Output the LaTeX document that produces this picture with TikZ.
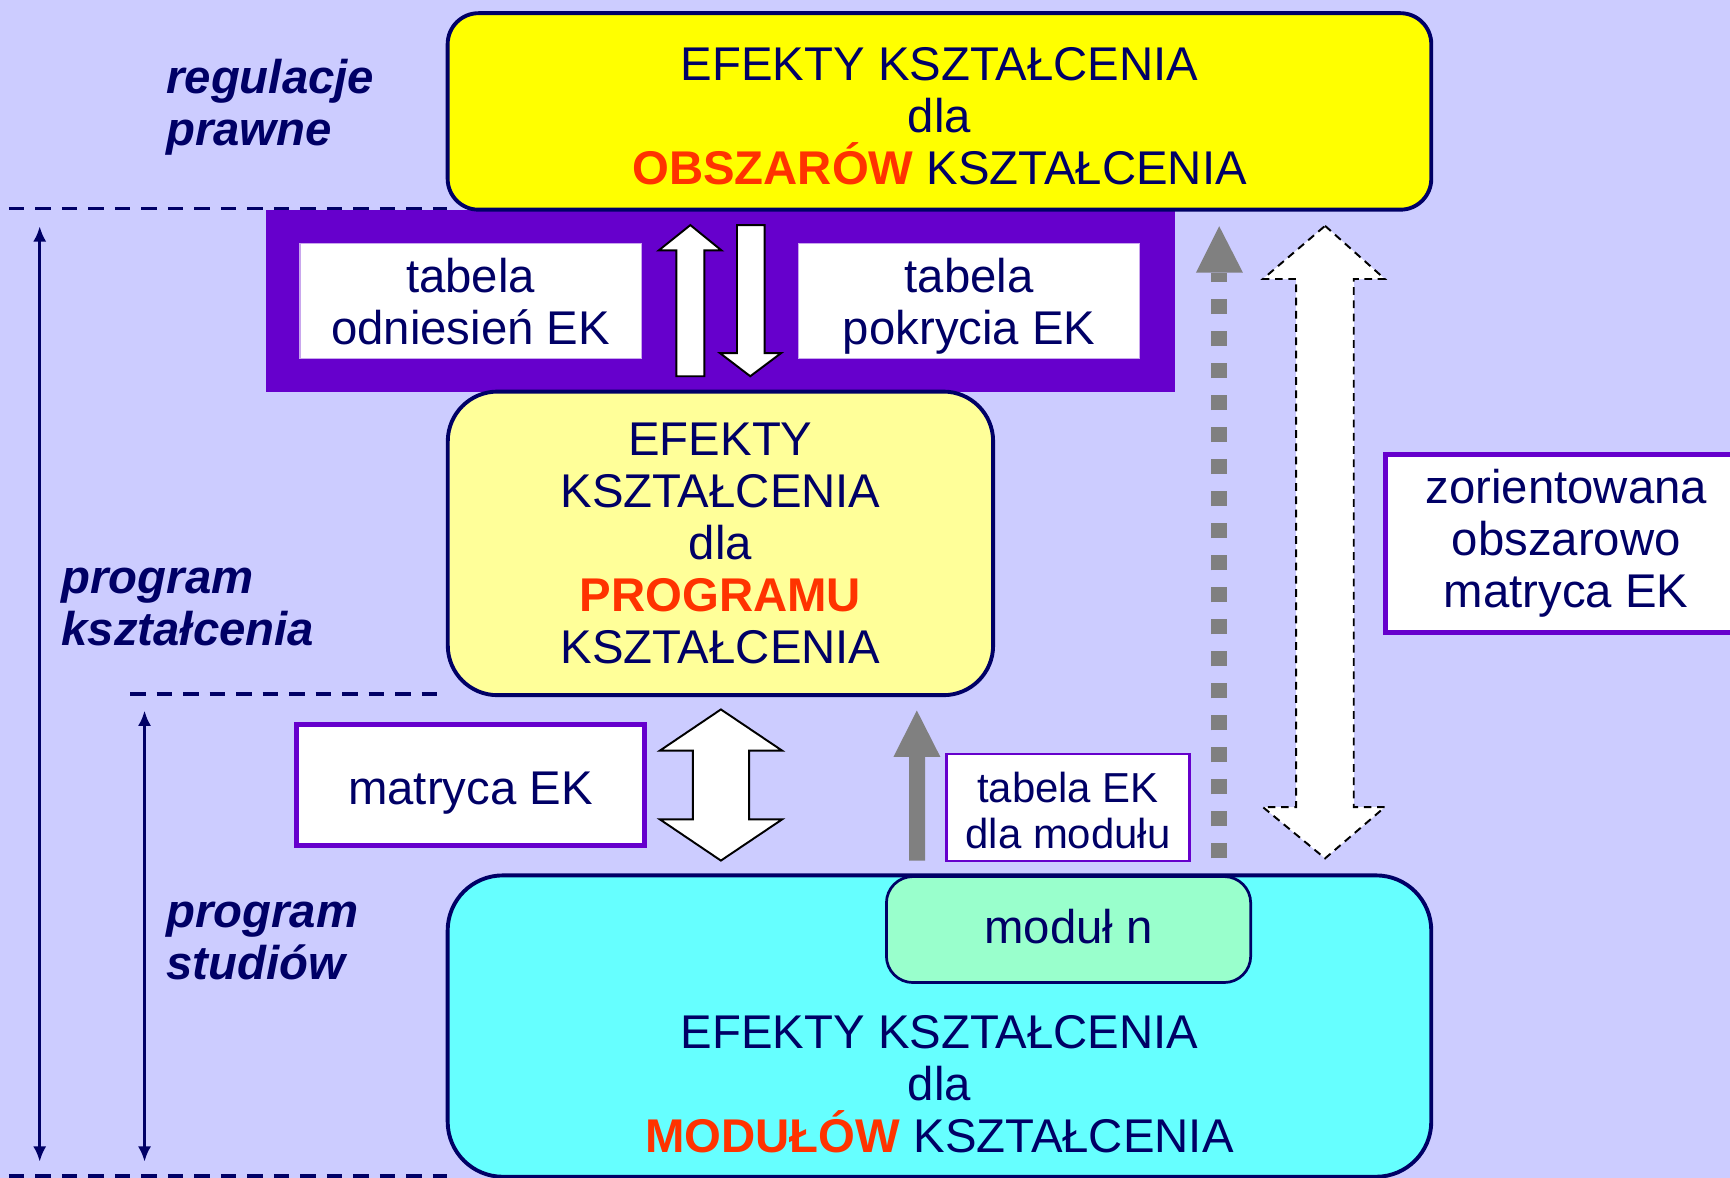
\documentclass[tikz,border=0pt]{standalone}
\usepackage{fontspec}
\setmainfont{Liberation Sans}
\usetikzlibrary{arrows.meta}
\definecolor{bg}{HTML}{CCCCFF}
\definecolor{navy}{HTML}{000066}
\definecolor{rd}{HTML}{FF3300}
\definecolor{purp}{HTML}{6600CC}
\definecolor{yel}{HTML}{FFFF00}
\definecolor{lyel}{HTML}{FFFF99}
\definecolor{cyn}{HTML}{66FFFF}
\definecolor{grn}{HTML}{99FFCC}
\begin{document}
\begin{tikzpicture}[x=0.01cm,y=-0.01cm,
txt/.style={text=navy,align=center,inner sep=0pt,font=\fontsize{12.2}{13.4}\selectfont},
lbl/.style={text=navy,align=left,anchor=west,inner sep=0pt,font=\fontsize{12.2}{13.4}\selectfont\bfseries\itshape},
ekbox/.style={txt,draw=navy,line width=1pt,rounded corners=#1},
wbox/.style={txt,fill=white,draw=purp,line width=1.3pt},
sep/.style={navy,line width=1pt,dash pattern=on 0.14cm off 0.1cm},
span/.style={navy,line width=0.8pt,{Latex[length=1.4mm,width=1.2mm]}-{Latex[length=1.4mm,width=1.2mm]}},
blk/.style={fill=white,draw=black,line width=0.5pt,line join=miter}]
\useasboundingbox[fill=bg](0,0)rectangle(1568,1067.7);
\clip(0,0)rectangle(1568,1067.7);
\fill[purp](241,190)rectangle(1065,355);
\node[ekbox=0.28cm,fill=yel,minimum width=8.91cm,minimum height=1.78cm](obszar)at(851.5,101){\rule{0pt}{11pt}EFEKTY KSZTAŁCENIA\\dla\\\textcolor{rd}{\bfseries OBSZARÓW} KSZTAŁCENIA};
\draw[sep](8,189)--(405,189);
\draw[sep](118,629)--(405,629);
\draw[sep](8,1066)--(405,1066);
\node[lbl](regul)at(150,97.5){regulacje\\prawne};
\node[lbl](progk)at(55,550.5){program\\kształcenia};
\node[lbl](progs)at(150,852.5){program\\studiów};
\node[txt,fill=white,draw=purp!35,line width=0.3pt,minimum width=3.09cm,minimum height=1.04cm](odn)at(426.5,273){tabela\\odniesień EK};
\node[txt,fill=white,draw=purp!35,line width=0.3pt,minimum width=3.09cm,minimum height=1.04cm](pokr)at(878.5,273){tabela\\\smash{pokrycia EK}};
\draw[blk](625.7,204)--(654,227)--(638.5,227)--(638.5,341)--(613,341)--(613,227)--(597,227)--cycle;
\draw[blk](680,341)--(708,320)--(693,320)--(693,204)--(668,204)--(668,320)--(652.5,320)--cycle;
\node[ekbox=0.45cm,fill=lyel,minimum width=4.94cm,minimum height=2.75cm](progr)at(653,492.5){EFEKTY\\KSZTAŁCENIA\\dla\\\textcolor{rd}{\bfseries PROGRAMU}\\KSZTAŁCENIA};
\node[wbox,text height=10.3pt,text depth=0pt,minimum width=3.15cm,minimum height=1.10cm](matr)at(426.5,711.5){matryca EK};
\draw[blk](653.4,643)--(709,680.4)--(679,680.4)--(679,742.6)--(709,742.6)--(653.4,780)--(598,742.6)--(628,742.6)--(628,680.4)--(598,680.4)--cycle;
\fill[gray](831,644)--(852.3,686)--(838.4,686)--(838.4,780)--(824,780)--(824,686)--(809.8,686)--cycle;
\node[wbox,line width=0.6pt,minimum width=2.2cm,minimum height=0.97cm,font=\fontsize{10.8}{11.7}\selectfont](tmod)at(968,732){\rule{0pt}{9.3pt}tabela EK\\dla modułu};
\draw[gray,line width=0.15cm,dash pattern=on 0.14cm off 0.15cm](1105,778)--(1105,247);
\fill[gray](1105,205)--(1126.5,247)--(1084,247)--cycle;
\draw[blk,dash pattern=on 0.07cm off 0.05cm](1201,204.7)--(1255.2,252.9)--(1227,252.9)--(1227,731.5)--(1255.2,731.5)--(1201,778)--(1144.6,731.5)--(1174.7,731.5)--(1174.7,252.9)--(1144.6,252.9)--cycle;
\node[wbox,minimum width=3.27cm,minimum height=1.61cm](zor)at(1419.6,492.5){zorientowana\\obszarowo\\matryca EK};
\node[ekbox=0.5cm,fill=cyn,minimum width=8.91cm,minimum height=2.73cm](modul)at(851.5,930){};
\node[txt](modtxt)at(851.5,983){EFEKTY KSZTAŁCENIA\\dla\\\textcolor{rd}{\bfseries MODUŁÓW} KSZTAŁCENIA};
\node[ekbox=0.24cm,line width=0.7pt,fill=grn,text height=7.2pt,text depth=0pt,minimum width=3.3cm,minimum height=0.96cm](modn)at(968.5,842.5){moduł n};
\coordinate(a1)at(36,205);\coordinate(a2)at(36,1053);
\coordinate(b1)at(131,644);\coordinate(b2)at(131,1053);
\draw[span](a1)--(a2);
\draw[span](b1)--(b2);
\end{tikzpicture}
\end{document}
